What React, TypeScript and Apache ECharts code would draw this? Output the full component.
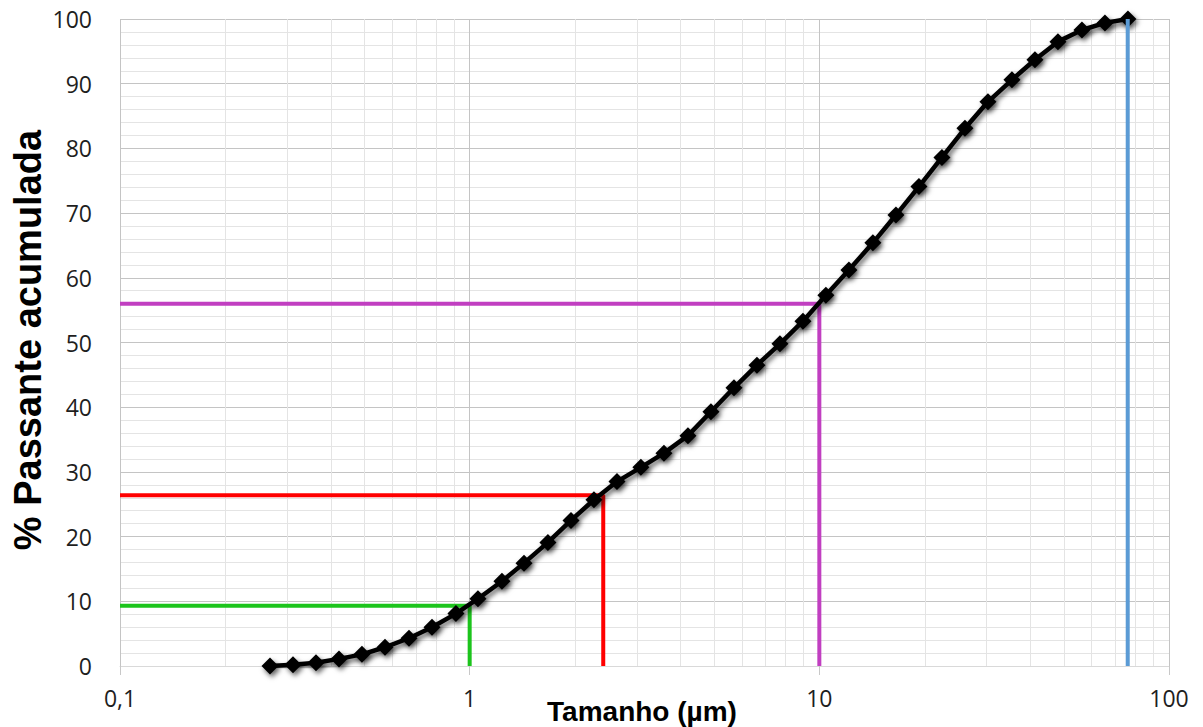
import React, { useEffect, useRef } from "react";
import * as echarts from "echarts";

// Particle size (µm) and cumulative passing (%)
const sizes = [
  0.2685, 0.3124, 0.3635, 0.4229, 0.492, 0.5726, 0.6706, 0.7802, 0.9137, 1.056,
  1.237, 1.43, 1.674, 1.949, 2.267, 2.638, 3.088, 3.594, 4.209, 4.898,
  5.7, 6.63, 7.716, 8.977, 10.44, 12.15, 14.23, 16.56, 19.27, 22.42,
  26.09, 30.35, 35.55, 41.36, 48.12, 56.36, 65.58, 76.3,
];
const passing = [
  0, 0.2, 0.5, 1.1, 1.8, 2.9, 4.3, 6.0, 8.1, 10.4,
  13.1, 15.9, 19.1, 22.5, 25.7, 28.5, 30.7, 32.9, 35.6, 39.3,
  43.0, 46.5, 49.8, 53.3, 57.3, 61.2, 65.4, 69.7, 74.1, 78.6,
  83.1, 87.2, 90.6, 93.7, 96.5, 98.3, 99.4, 100,
];

// Reference sizes and their passing levels
const refSizes = [1, 2.41, 10];
const refLevels = [9.3, 26.4, 56.0];
const refColors = ["#1cc41c", "#ff0000", "#c13fc1"];
const maxSize = 76.2;

// Axis tick values
const xMin = 0.1;
const xMax = 100;
const decades = [0.1, 1, 10];
const minorMultipliers = [2, 3, 4, 5, 6, 7, 8, 9];

const tickFont = "'Open Sans', sans-serif";
const titleFont = "'Liberation Sans', Arial, sans-serif";

export default function App() {
  const ref = useRef<HTMLDivElement>(null);

  useEffect(() => {
    document.body.style.margin = "0";
    const chart = echarts.init(ref.current!, null, { renderer: "svg" });

    const minorX: number[][] = [];
    decades.forEach((d) =>
      minorMultipliers.forEach((m) => minorX.push([+(d * m).toPrecision(4), 0]))
    );

    const refSeries = refSizes.map((s, i) => ({
      type: "line",
      data: [
        [xMin, refLevels[i]],
        [s, refLevels[i]],
        [s, 0],
      ],
      showSymbol: false,
      symbol: "none",
      lineStyle: { color: refColors[i], width: 4 },
      z: 2,
      silent: true,
    }));

    const shadow = {
      shadowBlur: 5,
      shadowColor: "rgba(0,0,0,0.6)",
      shadowOffsetX: 2,
      shadowOffsetY: 3,
    };

    chart.setOption({
      animation: false,
      grid: { left: 120, right: 34, top: 19, bottom: 61 },
      xAxis: {
        type: "log",
        logBase: 10,
        min: xMin,
        max: xMax,
        axisLine: { show: true, lineStyle: { color: "#d9d9d9", width: 1 } },
        axisTick: { show: true, length: 9, lineStyle: { color: "#c8c8c8" } },
        axisLabel: {
          fontFamily: tickFont,
          fontSize: 23,
          color: "#1e1e1e",
          margin: 20,
          formatter: (v: number) => String(+v.toPrecision(6)).replace(".", ","),
        },
        splitLine: { show: true, lineStyle: { color: "#c4c4c4", width: 1 } },
      },
      yAxis: {
        type: "value",
        min: 0,
        max: 100,
        interval: 10,
        axisLine: { show: false },
        axisTick: { show: false },
        axisLabel: {
          fontFamily: tickFont,
          fontSize: 23,
          color: "#1e1e1e",
          margin: 28,
        },
        splitLine: { show: true, lineStyle: { color: "#c4c4c4", width: 1 } },
        minorTick: { show: false, splitNumber: 5 },
        minorSplitLine: { show: true, lineStyle: { color: "#e4e4e4", width: 1 } },
      },
      graphic: [
        {
          type: "text",
          x: 28,
          y: 340,
          rotation: Math.PI / 2,
          style: {
            text: "% Passante acumulada",
            font: `bold 38px ${titleFont}`,
            fill: "#000",
            textAlign: "center",
            textVerticalAlign: "middle",
          },
        },
        {
          type: "text",
          x: 642,
          y: 711,
          style: {
            text: "Tamanho (µm)",
            font: `bold 28px ${titleFont}`,
            fill: "#000",
            textAlign: "center",
            textVerticalAlign: "middle",
          },
        },
      ],
      series: [
        {
          type: "custom",
          data: minorX,
          encode: { x: 0, y: 1 },
          silent: true,
          z: 1,
          renderItem: (_params: any, api: any) => {
            const v = api.value(0);
            const p0 = api.coord([v, 0]);
            const p1 = api.coord([v, 100]);
            return {
              type: "line",
              shape: { x1: Math.round(p0[0]) + 0.5, y1: p0[1], x2: Math.round(p1[0]) + 0.5, y2: p1[1] },
              style: { stroke: "#e4e4e4", lineWidth: 1 },
            };
          },
        },
        ...refSeries,
        {
          type: "line",
          data: sizes.map((s, i) => [s, passing[i]]),
          symbol: "diamond",
          symbolSize: 17,
          showAllSymbol: true,
          z: 3,
          itemStyle: { color: "#000", ...shadow },
          lineStyle: { color: "#000", width: 4.5, ...shadow },
          silent: true,
        },
        {
          type: "line",
          data: [
            [maxSize, 0],
            [maxSize, 100],
          ],
          symbol: "none",
          lineStyle: { color: "#5b9bd5", width: 4 },
          z: 4,
          silent: true,
        },
      ],
    });

    return () => chart.dispose();
  }, []);

  return <div ref={ref} style={{ width: 1203, height: 727 }} />;
}
